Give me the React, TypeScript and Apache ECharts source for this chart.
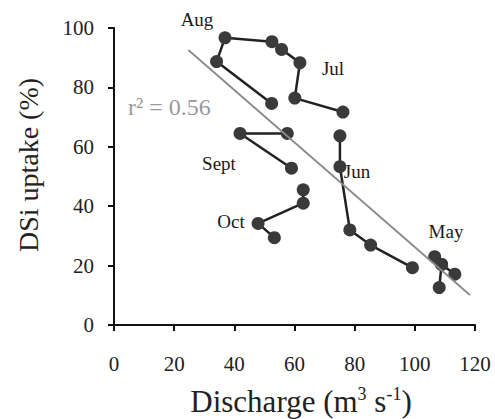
import React, { useEffect, useRef } from "react";
import * as echarts from "echarts";

const augJul: number[][] = [[52.4, 74.6], [34.1, 88.7], [36.9, 96.7], [52.5, 95.4], [55.7, 92.8], [61.8, 88.3], [60.1, 76.4], [76.1, 71.7]];
const jun: number[][] = [[75.1, 63.7], [75.1, 53.3], [78.4, 32.0], [85.3, 26.9], [99.2, 19.3]];
const may: number[][] = [[106.6, 23.0], [108.9, 20.4], [113.3, 17.1]];
const mayBranch: number[][] = [[108.9, 20.4], [108.1, 12.6]];
const sept: number[][] = [[57.6, 64.5], [41.9, 64.5], [59.0, 52.8]];
const oct: number[][] = [[62.9, 45.5], [62.9, 41.0], [47.9, 34.2], [53.3, 29.4]];
const regression: number[][] = [[24.7, 92.6], [118.3, 10.1]];
const monthLabels = [
  { text: "Aug", x: 197, y: 19 },
  { text: "Jul", x: 333, y: 68 },
  { text: "Sept", x: 219, y: 163 },
  { text: "Jun", x: 357, y: 171 },
  { text: "Oct", x: 231, y: 221 },
  { text: "May", x: 446, y: 231 },
];
const r2Label = "r\u00B2 = 0.56";

const FONT = "Liberation Serif";

export default function App() {
  const ref = useRef<HTMLDivElement>(null);
  useEffect(() => {
    if (!ref.current) return;
    const chart = echarts.init(ref.current, undefined, { renderer: "svg" });
    const seg = (data: number[][]) => ({
      type: "line",
      data,
      symbol: "circle",
      symbolSize: 13,
      itemStyle: { color: "#3a3a3a" },
      lineStyle: { color: "#222", width: 2.5 },
      z: 2,
    });
    chart.setOption({
      animation: false,
      backgroundColor: "#fff",
      textStyle: { fontFamily: FONT },
      grid: { left: 114, right: 20, top: 28, bottom: 94 },
      xAxis: {
        type: "value",
        min: 0,
        max: 120,
        interval: 20,
        axisLine: { show: true, lineStyle: { color: "#111", width: 2 } },
        axisTick: { show: true, length: 6, lineStyle: { color: "#111", width: 2 } },
        axisLabel: { margin: 28, fontFamily: FONT, fontSize: 21, color: "#222" },
        splitLine: { show: false },
      },
      yAxis: {
        type: "value",
        min: 0,
        max: 100,
        interval: 20,
        axisLine: { show: true, lineStyle: { color: "#111", width: 2 } },
        axisTick: { show: true, length: 6, lineStyle: { color: "#111", width: 2 } },
        axisLabel: { margin: 20, fontFamily: FONT, fontSize: 21, color: "#222" },
        splitLine: { show: false },
      },
      series: [
        seg(augJul),
        seg(jun),
        seg(may),
        seg(mayBranch),
        seg(sept),
        seg(oct),
        {
          type: "line",
          data: regression,
          symbol: "none",
          lineStyle: { color: "#8a8a8a", width: 1.8 },
          z: 5,
        },
      ],
      graphic: [
        ...monthLabels.map((m) => ({
          type: "text",
          x: m.x,
          y: m.y,
          style: {
            text: m.text,
            fontFamily: FONT,
            fontSize: 19,
            fill: "#1a1a1a",
            textAlign: "center",
            textVerticalAlign: "middle",
          },
        })),
        {
          type: "text",
          x: 128,
          y: 107,
          style: {
            text: r2Label,
            fontFamily: FONT,
            fontSize: 24,
            fill: "#999",
            textAlign: "left",
            textVerticalAlign: "middle",
          },
        },
        {
          type: "text",
          x: 301,
          y: 401,
          style: {
            text: "{a|Discharge (m}{s|3}{a| s}{s|-1}{a|)}",
            textAlign: "center",
            textVerticalAlign: "middle",
            rich: {
              a: { fontFamily: FONT, fontSize: 31, fill: "#222", lineHeight: 32 },
              s: { fontFamily: FONT, fontSize: 18, fill: "#222", lineHeight: 20, verticalAlign: "top" },
            },
          },
        },
        {
          type: "text",
          x: 28,
          y: 165,
          rotation: Math.PI / 2,
          style: {
            text: "DSi uptake (%)",
            fontFamily: FONT,
            fontSize: 28,
            fill: "#222",
            textAlign: "center",
            textVerticalAlign: "middle",
          },
        },
      ],
    });
    return () => chart.dispose();
  }, []);
  return <div ref={ref} style={{ position: "fixed", left: 0, top: 0, width: 495, height: 419 }} />;
}
